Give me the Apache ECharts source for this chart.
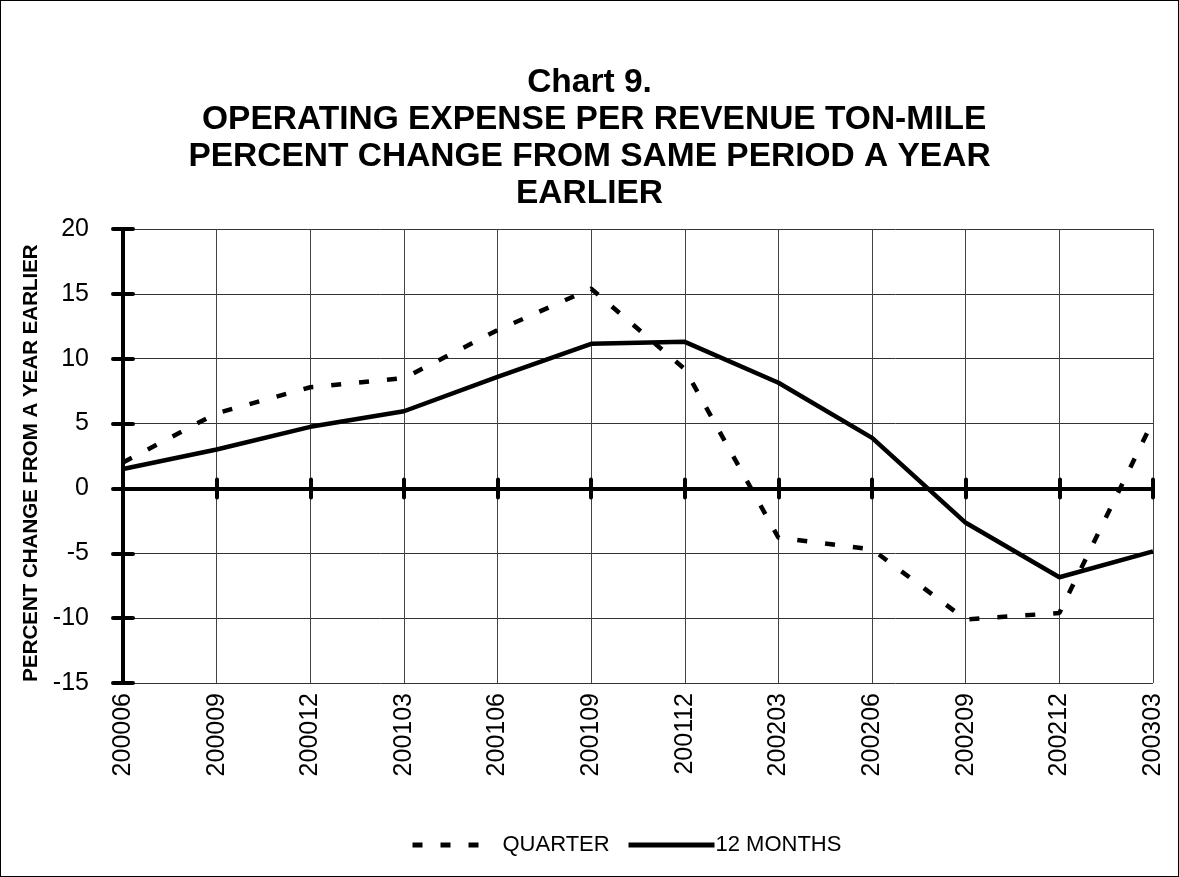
<!DOCTYPE html>
<html>
<head>
<meta charset="utf-8">
<script src="https://cdn.jsdelivr.net/npm/echarts@6/dist/echarts.min.js"></script>
<style>
html,body{margin:0;padding:0;background:#fff;}
#c{width:1179px;height:877px;box-sizing:border-box;border:1px solid #000;}
</style>
</head>
<body>
<div id="c"></div>
<script>
const categories = ['200006','200009','200012','200103','200106','200109','200112','200203','200206','200209','200212','200303'];
const quarter = [2.0, 5.8, 7.8, 8.5, 12.2, 15.4, 9.2, -3.8, -4.7, -10.1, -9.6, 5.2];
const twelveMonths = [1.5, 3.0, 4.75, 5.95, 8.6, 11.15, 11.3, 8.15, 3.9, -2.65, -6.85, -4.85];
const yMin = -15, yMax = 20, yStep = 5;
const titleText = 'Chart 9.\n OPERATING EXPENSE PER REVENUE TON-MILE\nPERCENT CHANGE FROM SAME PERIOD A YEAR\nEARLIER';
const yName = 'PERCENT CHANGE FROM A YEAR EARLIER';

const chart = echarts.init(document.getElementById('c'), null, {renderer:'canvas'});
const font = 'Liberation Sans, Arial, sans-serif';
const baseX = {type:'category', data:categories, boundaryGap:false};
const dash = [10,18];
chart.setOption({
  animation:false,
  backgroundColor:'#fff',
  textStyle:{fontFamily:font, color:'#000'},
  title:{
    text:titleText, left:'center', top:58,
    textStyle:{fontFamily:font, fontWeight:'bold', fontSize:33.5, lineHeight:37, color:'#000'}
  },
  grid:{left:122, right:25, top:228, bottom:193, containLabel:false},
  legend:[
    {
      left:404, bottom:15, itemWidth:75, itemHeight:12,
      textStyle:{fontFamily:font, fontSize:22, color:'#000', padding:[0,0,0,10]},
      itemStyle:{opacity:0},
      data:[{name:'QUARTER', lineStyle:{width:5, type:dash, color:'#000'}}]
    },
    {
      left:620, bottom:15, itemWidth:86, itemHeight:12,
      textStyle:{fontFamily:font, fontSize:22, color:'#000', padding:[0,0,0,-4]},
      itemStyle:{opacity:0},
      data:[{name:'12 MONTHS', lineStyle:{width:5, type:'solid', color:'#000'}}]
    }
  ],
  xAxis:[
    Object.assign({}, baseX, {
      position:'bottom',
      axisLine:{show:false, onZero:false},
      axisTick:{show:false},
      axisLabel:{rotate:90, fontSize:25, color:'#000', fontFamily:font, margin:10},
      splitLine:{show:true, lineStyle:{color:'#444', width:1}}
    }),
    Object.assign({}, baseX, {
      position:'bottom',
      axisLine:{show:true, onZero:true, lineStyle:{color:'#000', width:4}},
      axisTick:{show:true, inside:false, length:9, lineStyle:{color:'#000', width:4, cap:'round'}},
      axisLabel:{show:false},
      splitLine:{show:false}
    }),
    Object.assign({}, baseX, {
      position:'top',
      axisLine:{show:false, onZero:true},
      axisTick:{show:true, inside:false, length:9, lineStyle:{color:'#000', width:4, cap:'round'}},
      axisLabel:{show:false},
      splitLine:{show:false}
    })
  ],
  yAxis:[
    {
      type:'value', min:yMin, max:yMax, interval:yStep, position:'left',
      name:yName, nameLocation:'middle', nameGap:58, nameRotate:90,
      nameTextStyle:{fontFamily:font, fontWeight:'bold', fontSize:20.5, color:'#000', padding:[0,14,0,0]},
      axisLine:{show:true, lineStyle:{color:'#000', width:4}},
      axisTick:{show:true, length:10, lineStyle:{color:'#000', width:4, cap:'round'}},
      axisLabel:{fontSize:25, color:'#000', fontFamily:font, margin:34},
      splitLine:{show:true, lineStyle:{color:'#333', width:1}}
    },
    {
      type:'value', min:yMin, max:yMax, interval:yStep, position:'left',
      axisLine:{show:false},
      axisTick:{show:true, inside:true, length:10, lineStyle:{color:'#000', width:4, cap:'round'}},
      axisLabel:{show:false},
      splitLine:{show:false}
    }
  ],
  series:[
    {
      name:'QUARTER', type:'line', data:quarter, xAxisIndex:0, yAxisIndex:0,
      symbol:'none', z:5,
      lineStyle:{color:'#000', width:4.5, type:dash},
      itemStyle:{color:'#000'}
    },
    {
      name:'12 MONTHS', type:'line', data:twelveMonths, xAxisIndex:0, yAxisIndex:0,
      symbol:'none', z:5,
      lineStyle:{color:'#000', width:4.5, type:'solid'},
      itemStyle:{color:'#000'}
    }
  ]
});
</script>
</body>
</html>
